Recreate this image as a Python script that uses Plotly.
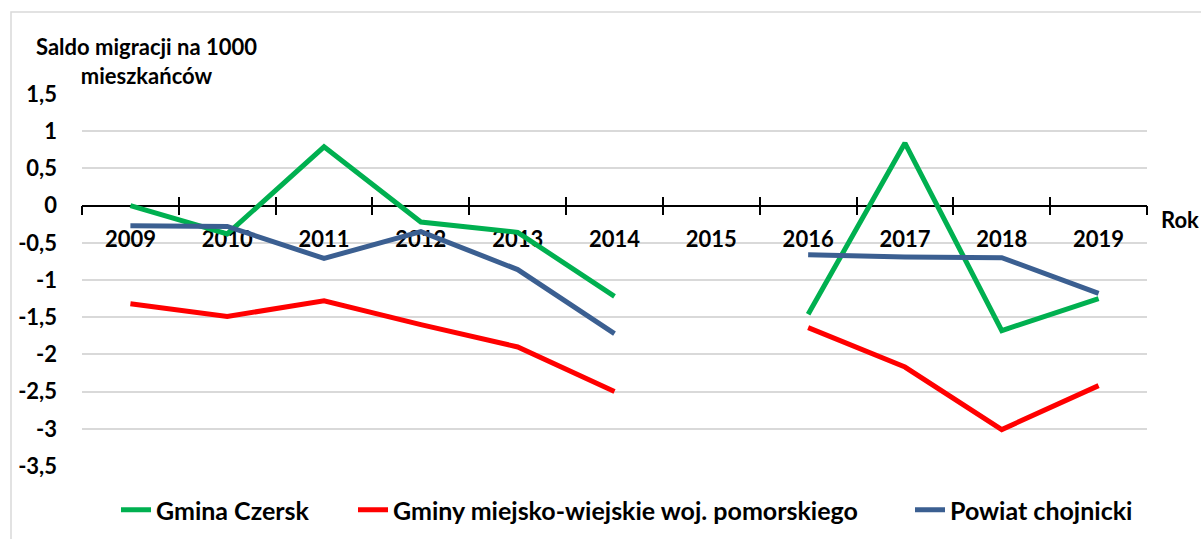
import plotly.graph_objects as go

years = ["2009", "2010", "2011", "2012", "2013", "2014", "2015", "2016", "2017", "2018", "2019"]
gmina_czersk = [0.0, -0.38, 0.79, -0.22, -0.36, -1.22, None, -1.46, 0.84, -1.68, -1.25]
gminy_mw = [-1.32, -1.49, -1.28, -1.60, -1.90, -2.50, None, -1.64, -2.17, -3.01, -2.42]
powiat = [-0.27, -0.28, -0.71, -0.35, -0.86, -1.72, None, -0.66, -0.69, -0.70, -1.18]

y_ticks = [1.5, 1, 0.5, 0, -0.5, -1, -1.5, -2, -2.5, -3, -3.5]
y_ticktext = ["1,5", "1", "0,5", "0", "-0,5", "-1", "-1,5", "-2", "-2,5", "-3", "-3,5"]

series_names = ["Gmina Czersk", "Gminy miejsko-wiejskie woj. pomorskiego", "Powiat chojnicki"]
colors = ["#00B050", "#FF0000", "#3B5F91"]
legend_ids = ["legend", "legend2", "legend3"]
legend_px = [116, 353, 910]  # left edge of each legend entry (pixels)

FONT = "Lato"
L, R, T, B = 82, 54, 94, 73
PW = 1201 - L - R
PH = 539 - T - B

fig = go.Figure()
for name, vals, col, lg in zip(series_names, [gmina_czersk, gminy_mw, powiat], colors, legend_ids):
    fig.add_trace(go.Scatter(x=years, y=vals, mode="lines", name=name, legend=lg,
                             line=dict(color=col, width=5), connectgaps=False))

# invisible helper trace for the secondary axis (inside tick marks)
fig.add_trace(go.Scatter(x=[-0.5, 10.5], y=[None, None], xaxis="x2", showlegend=False,
                         hoverinfo="skip", mode="lines"))

legend_font = dict(family=FONT, size=25, color="black", weight="bold")
legends = {}
for lg, px in zip(legend_ids, legend_px):
    legends[lg] = dict(orientation="h", x=(px - L) / PW, xanchor="left",
                       y=-(510 - (539 - B)) / PH, yanchor="middle",
                       font=legend_font, bgcolor="rgba(0,0,0,0)", borderwidth=0)

ypos = 3.5 / 5.0
fig.update_layout(
    width=1201, height=539,
    margin=dict(l=L, r=R, t=T, b=B, autoexpand=False),
    paper_bgcolor="white", plot_bgcolor="white",
    font=dict(family=FONT, color="black"),
    showlegend=True,
    **legends,
    xaxis=dict(type="category", range=[-0.5, 10.5], anchor="free", position=ypos,
               showline=True, linecolor="black", linewidth=1.5,
               ticks="outside", ticklen=9, tickwidth=1.5, tickcolor="black",
               tickson="boundaries", showgrid=False, zeroline=False,
               tickfont=dict(family=FONT, size=22, color="black", weight="bold"),
               ticklabelstandoff=14, layer="below traces"),
    xaxis2=dict(overlaying="x", range=[-0.5, 10.5], anchor="free", position=ypos,
                showline=False, ticks="inside", ticklen=9, tickwidth=1.5, tickcolor="black",
                tick0=-0.5, dtick=1, showticklabels=False, showgrid=False, zeroline=False,
                layer="below traces"),
    yaxis=dict(range=[-3.5, 1.5], tickvals=y_ticks, ticktext=y_ticktext,
               showgrid=True, gridcolor="#D9D9D9", gridwidth=1.5,
               zeroline=False, showline=False, ticks="",
               tickfont=dict(family=FONT, size=22, color="black", weight="bold"),
               ticklabelstandoff=24),
    shapes=[dict(type="rect", xref="paper", yref="paper",
                 x0=(11 - L) / PW, x1=1.2, y0=-0.5, y1=(539 - B - 12) / PH,
                 line=dict(color="#D9D9D9", width=1.5), fillcolor="rgba(0,0,0,0)", layer="below")],
    annotations=[
        dict(text="Saldo migracji na 1000<br>mieszkańców", xref="paper", yref="paper",
             x=(146 - L) / PW, y=(539 - B - 61) / PH, xanchor="center", yanchor="middle",
             showarrow=False, align="center",
             font=dict(family=FONT, size=22, color="black", weight="bold")),
        dict(text="Rok", xref="paper", yref="paper",
             x=(1159 - L) / PW, y=(539 - B - 219) / PH, xanchor="left", yanchor="middle",
             showarrow=False, font=dict(family=FONT, size=22, color="black", weight="bold")),
    ],
)

fig.write_html("out.html", config={"displayModeBar": False},
               post_script="document.body.style.margin='0px';")
